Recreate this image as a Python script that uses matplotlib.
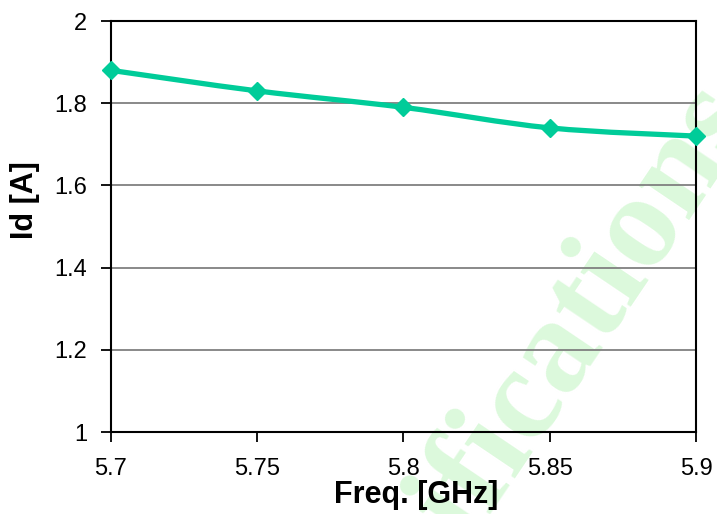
import numpy as np
import matplotlib
matplotlib.use('Agg')
import matplotlib.pyplot as plt
from matplotlib.path import Path
from matplotlib.patches import PathPatch

# Id versus frequency
freq = [5.7, 5.75, 5.8, 5.85, 5.9]
idrain = [1.88, 1.83, 1.79, 1.74, 1.72]
xticks = [5.7, 5.75, 5.8, 5.85, 5.9]
xticklabels = ['5.7', '5.75', '5.8', '5.85', '5.9']
yticks = [1, 1.2, 1.4, 1.6, 1.8, 2]
yticklabels = ['1', '1.2', '1.4', '1.6', '1.8', '2']

plt.rcParams['font.family'] = ['Liberation Sans', 'DejaVu Sans']
col = '#00cc99'

fig = plt.figure(figsize=(7.17, 5.14), dpi=100)
ax = fig.add_axes([0.1548, 0.1595, 0.8159, 0.7996])
ax.set_facecolor('none')

# watermark behind everything
fig.text(467/717, 1 - 545/514, 'ifications', rotation=56, rotation_mode='anchor',
         ha='left', va='baseline', fontsize=96, fontweight='bold',
         family='Liberation Serif', color='#dcf9dc', zorder=-10)

# smoothed line (Excel-style bezier through the points)
P = np.column_stack([freq, idrain])
Q = np.vstack([P[0], P, P[-1]])
verts = [P[0]]
codes = [Path.MOVETO]
for i in range(len(P) - 1):
    c1 = Q[i+1] + (Q[i+2] - Q[i]) / 6.0
    c2 = Q[i+2] - (Q[i+3] - Q[i+1]) / 6.0
    verts += [c1, c2, P[i+1]]
    codes += [Path.CURVE4] * 3
ax.add_patch(PathPatch(Path(verts, codes), facecolor='none', edgecolor=col,
                       lw=3.8, zorder=3, capstyle='round', joinstyle='round'))
ax.plot(freq, idrain, linestyle='none', marker='D', ms=9.5, color=col, zorder=4,
        clip_on=False)

ax.set_xlim(5.7, 5.9)
ax.set_ylim(1, 2)
ax.set_xticks(xticks)
ax.set_xticklabels(xticklabels)
ax.set_yticks(yticks)
ax.set_yticklabels(yticklabels)
ax.tick_params(axis='both', direction='out', length=7, width=1.3, labelsize=17,
               color='black')
ax.tick_params(axis='x', pad=12)
ax.tick_params(axis='y', pad=10)
ax.yaxis.grid(True, color='#808080', lw=1.3)
ax.set_axisbelow(True)
for s in ax.spines.values():
    s.set_linewidth(1.5)
    s.set_color('black')

ax.set_xlabel('Freq. [GHz]', fontsize=22, fontweight='bold')
ax.set_ylabel('Id [A]', fontsize=22, fontweight='bold')
ax.xaxis.set_label_coords(0.521, -0.117)
ax.yaxis.set_label_coords(-0.121, 0.564)

plt.savefig('out.png', dpi=100)
